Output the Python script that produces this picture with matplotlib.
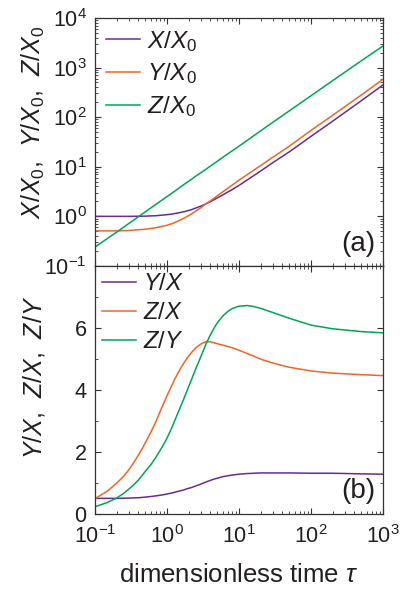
import numpy as np
import matplotlib
matplotlib.use('Agg')
import matplotlib.pyplot as plt
from matplotlib.ticker import LogLocator, MultipleLocator, NullFormatter

plt.rcParams['font.family'] = ['Liberation Sans', 'DejaVu Sans']
plt.rcParams['mathtext.fontset'] = 'custom'
plt.rcParams['mathtext.rm'] = 'Liberation Sans'
plt.rcParams['mathtext.it'] = 'Liberation Sans:italic'
plt.rcParams['mathtext.default'] = 'regular'

# (a) normalised quantities vs dimensionless time
t_a = [0.1, 0.2, 0.3, 0.5, 0.7, 1, 1.2, 1.5, 1.8, 2.2, 2.6, 3, 3.4, 4, 5, 6, 8, 10,
       20, 30, 50, 100, 200, 500, 1000]
x_x0 = [1.0, 1.0, 1.0, 1.01, 1.03, 1.08, 1.12, 1.19, 1.26, 1.37, 1.5, 1.62, 1.76, 1.98, 2.35,
        2.72, 3.45, 4.2, 8.2, 12.3, 20, 41, 83, 215, 446]
y_x0 = [0.51, 0.51, 0.52, 0.55, 0.59, 0.66, 0.72, 0.83, 0.95, 1.12, 1.32, 1.52, 1.75, 2.05, 2.6,
        3.15, 4.25, 5.35, 10.6, 15.8, 26, 54, 109, 280, 580]
z_x0 = [0.24, 0.48, 0.73, 1.23, 1.74, 2.5, 3.0, 3.8, 4.6, 5.6, 6.7, 7.7, 8.7, 10.3, 12.9,
        15.6, 20.8, 26, 53, 80, 134, 270, 545, 1370, 2720]

# (b) ratios vs dimensionless time
t_b = [0.1, 0.15, 0.2, 0.25, 0.3, 0.35, 0.4, 0.45, 0.5, 0.6, 0.7, 0.8, 0.9, 1, 1.15, 1.3, 1.5,
       1.7, 1.9, 2.2, 2.5, 2.8, 3.1, 3.5, 4, 4.5, 5, 6, 7, 8, 10, 13, 16, 20, 30, 50, 100,
       200, 500, 1000]
y_x = [0.51, 0.51, 0.51, 0.515, 0.52, 0.525, 0.53, 0.54, 0.55, 0.57, 0.59, 0.61, 0.63, 0.65,
       0.68, 0.71, 0.75, 0.78, 0.82, 0.86, 0.91, 0.95, 0.99, 1.04, 1.09, 1.13, 1.16, 1.21,
       1.24, 1.26, 1.29, 1.31, 1.32, 1.33, 1.33, 1.33, 1.32, 1.32, 1.30, 1.29]
z_x = [0.50, 0.75, 1.00, 1.22, 1.45, 1.68, 1.90, 2.10, 2.30, 2.65, 2.98, 3.30, 3.57, 3.82,
       4.12, 4.38, 4.65, 4.86, 5.03, 5.22, 5.36, 5.45, 5.52, 5.56, 5.56, 5.53, 5.50, 5.45,
       5.41, 5.37, 5.29, 5.18, 5.10, 5.00, 4.87, 4.74, 4.62, 4.55, 4.50, 4.47]
z_y = [0.24, 0.38, 0.52, 0.67, 0.82, 0.96, 1.10, 1.24, 1.38, 1.60, 1.83, 2.05, 2.25, 2.45,
       2.75, 3.05, 3.40, 3.70, 3.98, 4.35, 4.68, 4.95, 5.20, 5.50, 5.78, 6.00, 6.17, 6.40,
       6.54, 6.63, 6.71, 6.73, 6.70, 6.64, 6.50, 6.32, 6.10, 5.98, 5.89, 5.85]

purple = '#662d91'
orange = '#f26522'
green = '#00a651'
ink = '#231f20'

fig = plt.figure(figsize=(4.04, 5.91), dpi=100)
ax1 = fig.add_axes([0.235, 0.550, 0.713, 0.4196])
ax2 = fig.add_axes([0.235, 0.130, 0.713, 0.4196], sharex=ax1)

lw = 1.1
ax1.plot(t_a, x_x0, color=purple, lw=lw, label=r'$\it{X/X_0}$')
ax1.plot(t_a, y_x0, color=orange, lw=lw, label=r'$\it{Y/X_0}$')
ax1.plot(t_a, z_x0, color=green, lw=lw, label=r'$\it{Z/X_0}$')
ax1.set_xscale('log')
ax1.set_yscale('log')
ax1.set_xlim(0.1, 1000)
ax1.set_ylim(0.1, 1e4)
ax1.yaxis.set_major_locator(LogLocator(base=10, numticks=10))
ax1.yaxis.set_minor_locator(LogLocator(base=10, subs=np.arange(2, 10), numticks=20))
ax1.yaxis.set_minor_formatter(NullFormatter())
ax1.tick_params(axis='x', labelbottom=False)
ax1.set_ylabel(r'$\it{X/X_0}$,  $\it{Y/X_0}$,  $\it{Z/X_0}$', fontsize=18, color=ink)
ax1.yaxis.set_label_coords(-0.165, 0.58)
ax1.text(0.975, 0.09, '(a)', transform=ax1.transAxes, ha='right', va='center', fontsize=20, color=ink)
ax1.legend(loc='upper left', frameon=False, fontsize=17.5, handlelength=1.4,
           handletextpad=0.3, labelspacing=0.32, borderpad=0.15, borderaxespad=0.3,
           labelcolor=ink)

ax2.plot(t_b, y_x, color=purple, lw=lw, label=r'$\it{Y/X}$')
ax2.plot(t_b, z_x, color=orange, lw=lw, label=r'$\it{Z/X}$')
ax2.plot(t_b, z_y, color=green, lw=lw, label=r'$\it{Z/Y}$')
ax2.set_ylim(0, 8)
ax2.set_yticks([0, 2, 4, 6])
ax2.yaxis.set_minor_locator(MultipleLocator(1))
ax2.xaxis.set_major_locator(LogLocator(base=10, numticks=10))
ax2.xaxis.set_minor_locator(LogLocator(base=10, subs=np.arange(2, 10), numticks=20))
ax2.xaxis.set_minor_formatter(NullFormatter())
ax2.set_ylabel(r'$\it{Y/X}$,  $\it{Z/X}$,  $\it{Z/Y}$', fontsize=18, color=ink)
ax2.yaxis.set_label_coords(-0.165, 0.55)
ax2.set_xlabel(r'dimensionless time $\it{\tau}$', fontsize=18.5, color=ink, labelpad=11)
ax2.text(0.975, 0.095, '(b)', transform=ax2.transAxes, ha='right', va='center', fontsize=20, color=ink)
ax2.legend(loc='upper left', frameon=False, fontsize=17, handlelength=1.45,
           handletextpad=0.3, labelspacing=0.3, borderpad=0.1, borderaxespad=0.2,
           labelcolor=ink)

for ax in (ax1, ax2):
    for s in ax.spines.values():
        s.set_color('#333333')
        s.set_linewidth(0.9)
    ax.tick_params(which='both', direction='in', top=True, right=True, colors='#333333',
                   labelcolor=ink, labelsize=15.5)
    ax.tick_params(which='major', length=4, width=0.8, pad=6)
    ax.tick_params(which='minor', length=2.2, width=0.6)
ax2.tick_params(axis='x', which='major', pad=8)

fig.savefig('out.png', dpi=100)
